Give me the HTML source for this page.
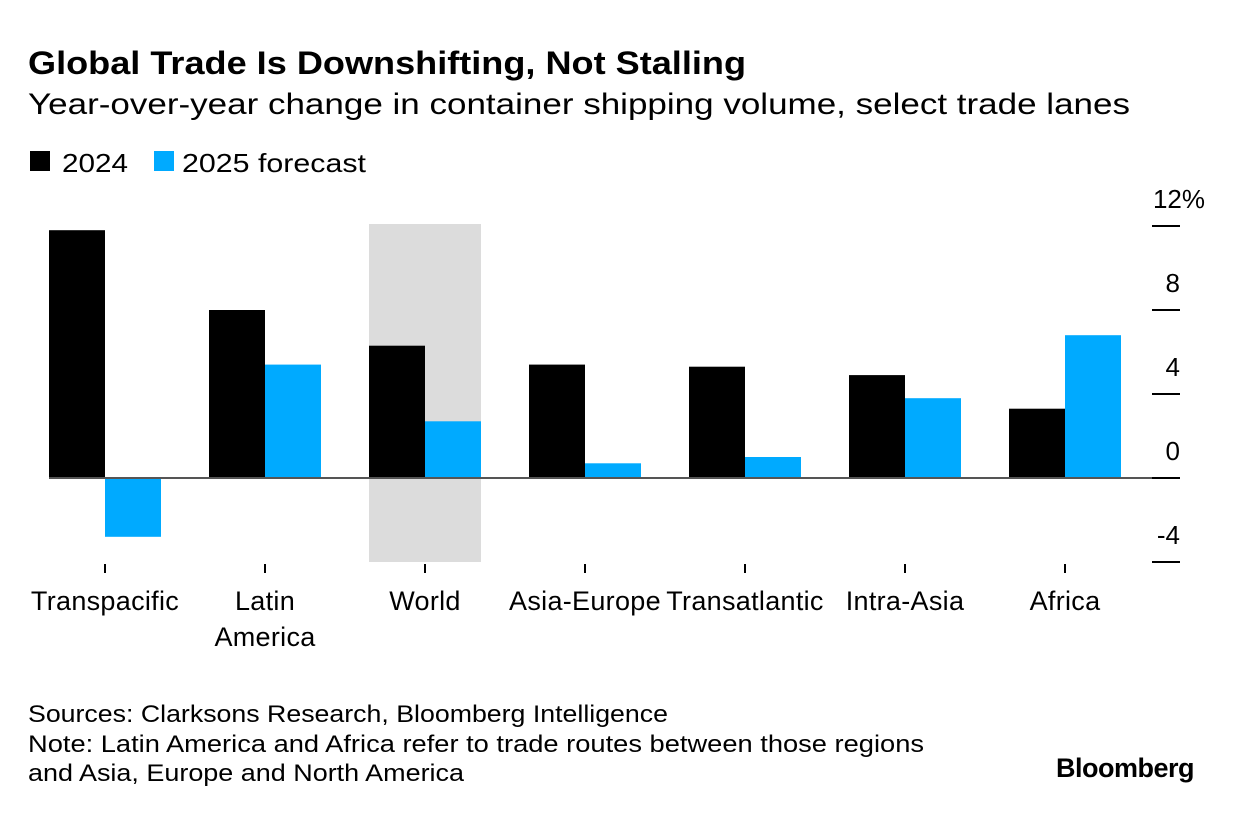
<!DOCTYPE html>
<html><head><meta charset="utf-8"><style>
body{margin:0;background:#fff;font-family:"Liberation Sans",Arial,sans-serif;}
svg text{font-family:"Liberation Sans",Arial,sans-serif;}
</style></head><body>
<svg width="1233" height="812" xmlns="http://www.w3.org/2000/svg">
<text x="28" y="74" font-size="32" font-weight="bold" fill="#000" textLength="718" lengthAdjust="spacingAndGlyphs">Global Trade Is Downshifting, Not Stalling</text>
<text x="28" y="114" font-size="30" fill="#000" textLength="1102" lengthAdjust="spacingAndGlyphs">Year-over-year change in container shipping volume, select trade lanes</text>
<g>
<rect x="30" y="151" width="20" height="20" fill="#000"/>
<text x="62" y="172" font-size="26" textLength="66" lengthAdjust="spacingAndGlyphs">2024</text>
<rect x="154" y="151" width="20" height="20" fill="#00aaff"/>
<text x="182" y="172" font-size="26" textLength="184" lengthAdjust="spacingAndGlyphs">2025 forecast</text>
</g>
<g id="plot"></g>
<text x="28" y="722" font-size="24" textLength="640" lengthAdjust="spacingAndGlyphs">Sources: Clarksons Research, Bloomberg Intelligence</text>
<text x="28" y="752" font-size="24" textLength="896" lengthAdjust="spacingAndGlyphs">Note: Latin America and Africa refer to trade routes between those regions</text>
<text x="28" y="781" font-size="24" textLength="436" lengthAdjust="spacingAndGlyphs">and Asia, Europe and North America</text>
<text x="1194" y="777" font-size="27" font-weight="bold" text-anchor="end" letter-spacing="-0.5">Bloomberg</text>
</svg>
<script>
const categories=[["Transpacific"],["Latin","America"],["World"],["Asia-Europe"],["Transatlantic"],["Intra-Asia"],["Africa"]];
const values2024=[11.8,8.0,6.3,5.4,5.3,4.9,3.3];
const values2025=[-2.8,5.4,2.7,0.7,1.0,3.8,6.8];
const ticks=[12,8,4,0,-4];
const highlight=2;
const NS="http://www.w3.org/2000/svg";
const g=document.getElementById('plot');
const y0=478,unit=21,x0=49,step=160,bw=56;
const y=v=>y0-v*unit;
const gx=i=>x0+i*step;
function mk(t,a){const e=document.createElementNS(NS,t);for(const k in a)e.setAttribute(k,a[k]);g.appendChild(e);return e;}
let hb=mk('rect',{x:gx(highlight),y:y(12)-2,width:bw*2,height:y(-4)-y(12)+2,fill:'#dcdcdc'});


categories.forEach((c,i)=>{
 const v1=values2024[i],v2=values2025[i];
 let r=mk('rect',{x:gx(i),y:Math.min(y(v1),y0),width:bw,height:Math.abs(y(v1)-y0),fill:'#000'});
 
 
 let r2=mk('rect',{x:gx(i)+bw,y:Math.min(y(v2),y0),width:bw,height:Math.abs(y(v2)-y0),fill:'#00aaff'});
 
 
 let tk=mk('line',{x1:gx(i)+bw,x2:gx(i)+bw,y1:564,y2:573,stroke:'#000','stroke-width':2});
 
 
 c.forEach((l,j)=>{
  let t=mk('text',{x:gx(i)+bw,y:610+j*36,'font-size':27,'text-anchor':'middle','letter-spacing':'0.3'});
  t.textContent=l;
  
  
 });
});
let zl=mk('line',{x1:x0,x2:1180,y1:y0,y2:y0,stroke:'#555','stroke-width':2});


ticks.forEach((v,i)=>{
 let l=mk('line',{x1:1152,x2:1180,y1:y(v),y2:y(v),stroke:'#000','stroke-width':2});
 
 
 let t=mk('text',{x:i==0?1205:1180,y:y(v)-18,'font-size':26,'text-anchor':'end'});
 t.textContent=v+(i==0?'%':'');
 
 
});
</script>
</body></html>
